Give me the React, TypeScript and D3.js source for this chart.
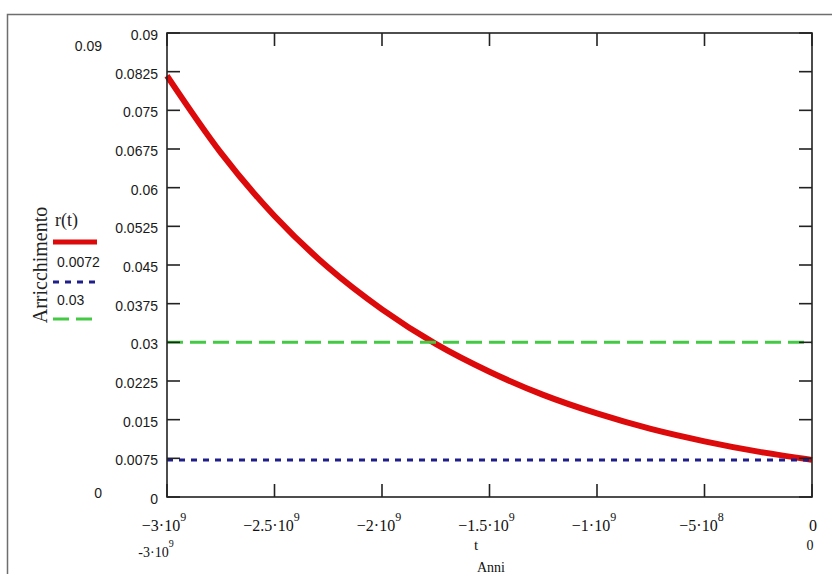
import React, { useRef, useEffect } from 'react';
import * as d3 from 'd3';

// r(t), every 2.5e8 years
const tYears = [-3e9, -2.75e9, -2.5e9, -2.25e9, -2e9, -1.75e9, -1.5e9, -1.25e9, -1e9, -7.5e8, -5e8, -2.5e8, 0];
const rValues = [0.0817, 0.0668, 0.0545, 0.0445, 0.0364, 0.0297, 0.0243, 0.0198, 0.0162, 0.0132, 0.0108, 0.0088, 0.0072];
const ratioNow = 0.0072;
const ratioReactor = 0.03;

const yTicks = [0, 0.0075, 0.015, 0.0225, 0.03, 0.0375, 0.045, 0.0525, 0.06, 0.0675, 0.075, 0.0825, 0.09];
const xTicks = [-3e9, -2.5e9, -2e9, -1.5e9, -1e9, -5e8, 0];
const xTickLabels = [['−3·10', '9'], ['−2.5·10', '9'], ['−2·10', '9'], ['−1.5·10', '9'], ['−1·10', '9'], ['−5·10', '8'], ['0', '']];
const legendLabels = ['r(t)', '0.0072', '0.03'];

function App() {
  const ref = useRef<SVGSVGElement>(null);

  useEffect(() => {
    const svg = d3.select(ref.current);
    svg.selectAll('*').remove();

    const left = 167, right = 812, top = 33, bottom = 497;
    const x = d3.scaleLinear().domain([-3e9, 0]).range([left, right]);
    const y = d3.scaleLinear().domain([0, 0.09]).range([bottom, top]);
    const sans = 'Liberation Sans, Arial, sans-serif';
    const serif = 'Liberation Serif, Times New Roman, serif';

    // outer region border
    svg.append('rect')
      .attr('x', 7.5).attr('y', 14.5)
      .attr('width', 900).attr('height', 700)
      .attr('fill', 'none').attr('stroke', '#6e6e6e').attr('stroke-width', 1.5);

    // data
    const line = d3.line<number>()
      .x((d, i) => x(tYears[i]))
      .y(d => y(d))
      .curve(d3.curveMonotoneX);

    svg.append('path')
      .datum(rValues)
      .attr('fill', 'none')
      .attr('stroke', '#dc0a0a')
      .attr('stroke-width', 6)
      .attr('d', line);

    svg.append('line')
      .attr('x1', x(-3e9)).attr('x2', x(0))
      .attr('y1', y(ratioReactor)).attr('y2', y(ratioReactor))
      .attr('stroke', '#44c944').attr('stroke-width', 3)
      .attr('stroke-dasharray', '16,7');

    svg.append('line')
      .attr('x1', x(-3e9)).attr('x2', x(0))
      .attr('y1', y(ratioNow)).attr('y2', y(ratioNow))
      .attr('stroke', '#1e1e8c').attr('stroke-width', 3)
      .attr('stroke-dasharray', '6,6');

    // plot frame + inward ticks
    svg.append('rect')
      .attr('x', left).attr('y', top)
      .attr('width', right - left).attr('height', bottom - top)
      .attr('fill', 'none').attr('stroke', '#222').attr('stroke-width', 1.6);

    const tk = svg.append('g').attr('stroke', '#222').attr('stroke-width', 1.6);
    yTicks.forEach(v => {
      tk.append('line').attr('x1', left).attr('x2', left + 13).attr('y1', y(v)).attr('y2', y(v));
      tk.append('line').attr('x1', right).attr('x2', right - 13).attr('y1', y(v)).attr('y2', y(v));
    });
    xTicks.forEach(v => {
      tk.append('line').attr('x1', x(v)).attr('x2', x(v)).attr('y1', bottom).attr('y2', bottom - 13);
      tk.append('line').attr('x1', x(v)).attr('x2', x(v)).attr('y1', top).attr('y2', top + 13);
    });

    // y tick labels
    const fmt = d3.format('~g');
    svg.append('g').selectAll('text')
      .data(yTicks)
      .join('text')
      .attr('x', 158).attr('y', d => y(d) + 2)
      .attr('text-anchor', 'end')
      .attr('dominant-baseline', 'central')
      .attr('font-family', sans).attr('font-size', 14).attr('fill', '#1a1a1a')
      .text(d => fmt(d));

    // y limits
    svg.append('text').attr('x', 102).attr('y', 46).attr('text-anchor', 'end')
      .attr('dominant-baseline', 'central')
      .attr('font-family', sans).attr('font-size', 14).attr('fill', '#1a1a1a').text(fmt(yTicks[yTicks.length - 1]));
    svg.append('text').attr('x', 102).attr('y', 493).attr('text-anchor', 'end')
      .attr('dominant-baseline', 'central')
      .attr('font-family', sans).attr('font-size', 14).attr('fill', '#1a1a1a').text(fmt(yTicks[0]));

    // x tick labels
    const addSup = (px: number, py: number, lab: string[], size = 16) => {
      const t = svg.append('text')
        .attr('x', px).attr('y', py)
        .attr('text-anchor', 'middle')
        .attr('font-family', serif).attr('font-size', size).attr('fill', '#111');
      t.append('tspan').text(lab[0]);
      if (lab[1]) t.append('tspan').attr('dy', -10).attr('font-size', size - 4).text(lab[1]);
    };
    xTicks.forEach((v, i) => addSup(x(v) - (i === xTicks.length - 1 ? -1 : 3), 531, xTickLabels[i]));

    // x limits
    addSup(x(xTicks[0]) - 11, 557, ['-3·10', '9'], 14);
    addSup(x(xTicks[xTicks.length - 1]) - 2, 550, xTickLabels[xTickLabels.length - 1], 14);

    // axis titles
    svg.append('text').attr('x', 476).attr('y', 550).attr('text-anchor', 'middle')
      .attr('font-family', serif).attr('font-size', 15).attr('fill', '#111').text('t');
    svg.append('text').attr('x', 477).attr('y', 572)
      .attr('font-family', serif).attr('font-size', 14).attr('fill', '#111').text('Anni');
    svg.append('text')
      .attr('transform', 'translate(40,265) rotate(-90)')
      .attr('text-anchor', 'middle').attr('dominant-baseline', 'central')
      .attr('font-family', serif).attr('font-size', 20).attr('fill', '#222').text('Arricchimento');

    // legend
    const lg = svg.append('g');
    lg.append('text').attr('x', 55).attr('y', 220).attr('dominant-baseline', 'central')
      .attr('font-family', serif).attr('font-size', 18).attr('fill', '#222').text(legendLabels[0]);
    lg.append('line').attr('x1', 53).attr('x2', 97).attr('y1', 242).attr('y2', 242)
      .attr('stroke', '#dc0a0a').attr('stroke-width', 5);
    lg.append('text').attr('x', 57).attr('y', 262).attr('dominant-baseline', 'central')
      .attr('font-family', sans).attr('font-size', 14).attr('fill', '#1a1a1a').text(legendLabels[1]);
    lg.append('line').attr('x1', 53).attr('x2', 96).attr('y1', 282).attr('y2', 282)
      .attr('stroke', '#1e1e8c').attr('stroke-width', 3).attr('stroke-dasharray', '6,6');
    lg.append('text').attr('x', 57).attr('y', 300).attr('dominant-baseline', 'central')
      .attr('font-family', sans).attr('font-size', 14).attr('fill', '#1a1a1a').text(legendLabels[2]);
    lg.append('line').attr('x1', 53).attr('x2', 96).attr('y1', 319).attr('y2', 319)
      .attr('stroke', '#44c944').attr('stroke-width', 3).attr('stroke-dasharray', '16,7');
  }, []);

  return (
    <svg ref={ref} width={832} height={574}
      style={{ position: 'absolute', left: 0, top: 0, background: '#fff' }} />
  );
}

export default App;
